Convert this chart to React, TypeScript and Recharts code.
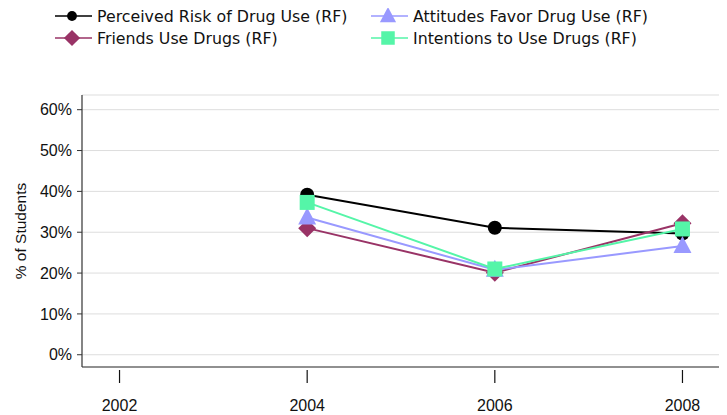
import React from 'react';
import { LineChart, Line, XAxis, YAxis, CartesianGrid } from 'recharts';

const years = [2004, 2006, 2008];
const perceivedRisk = [39.2, 31.1, 29.7];
const friendsUse = [31.0, 20.1, 32.2];
const attitudesFavor = [33.6, 20.8, 26.6];
const intentionsUse = [37.3, 21.0, 30.8];
const xTicks = [2002, 2004, 2006, 2008];
const yTicks = [0, 10, 20, 30, 40, 50, 60];

const data = years.map((year, i) => ({
  year,
  risk: perceivedRisk[i],
  friends: friendsUse[i],
  attitudes: attitudesFavor[i],
  intentions: intentionsUse[i],
}));

const SERIES = [
  { key: 'risk', name: 'Perceived Risk of Drug Use (RF)', color: '#000000', shape: 'circle' },
  { key: 'friends', name: 'Friends Use Drugs (RF)', color: '#993366', shape: 'diamond' },
  { key: 'attitudes', name: 'Attitudes Favor Drug Use (RF)', color: '#9999FF', shape: 'triangle' },
  { key: 'intentions', name: 'Intentions to Use Drugs (RF)', color: '#55F5A8', shape: 'square' },
];

const AXIS_FONT = "Arial, 'Liberation Sans', sans-serif";

function Marker({ cx, cy, shape, color, s = 1 }: { cx: number; cy: number; shape: string; color: string; s?: number }) {
  if (cx == null || cy == null) return null;
  if (shape === 'circle') return <circle cx={cx} cy={cy} r={7 * s} fill={color} />;
  if (shape === 'diamond')
    return (
      <polygon
        points={`${cx},${cy - 9 * s} ${cx + 9 * s},${cy} ${cx},${cy + 9 * s} ${cx - 9 * s},${cy}`}
        fill={color}
      />
    );
  if (shape === 'triangle')
    return (
      <polygon
        points={`${cx},${cy - 10 * s} ${cx + 9 * s},${cy + 7 * s} ${cx - 9 * s},${cy + 7 * s}`}
        fill={color}
      />
    );
  return <rect x={cx - 7.5 * s} y={cy - 7.5 * s} width={15 * s} height={15 * s} fill={color} />;
}

const legendPos = [
  { left: 47, top: -3 },
  { left: 47, top: 19 },
  { left: 363, top: -3 },
  { left: 363, top: 19 },
];

function LegendBox() {
  return (
    <>
      {SERIES.map((s, i) => (
        <div
          key={s.key}
          style={{
            position: 'absolute',
            left: legendPos[i].left,
            top: legendPos[i].top,
            height: 22,
            display: 'flex',
            alignItems: 'center',
            whiteSpace: 'nowrap',
            fontFamily: '"DejaVu Sans", Verdana, sans-serif',
            fontSize: 15.8,
            color: '#111',
          }}
        >
          <svg width={42} height={22} style={{ flexShrink: 0 }}>
            <line x1={0} y1={11} x2={37} y2={11} stroke={s.color} strokeWidth={1.5} />
            <Marker cx={17} cy={11} shape={s.shape} color={s.color} s={s.shape === 'circle' ? 0.7 : 0.9} />
          </svg>
          <span>{s.name}</span>
        </div>
      ))}
    </>
  );
}

function XTick({ x, y, payload }: any) {
  return (
    <g>
      <line x1={x} y1={y - 5} x2={x} y2={y + 8} stroke="#111" strokeWidth={1.2} />
      <text x={x} y={y + 36} textAnchor="middle" fill="#111" fontSize={16} fontFamily={AXIS_FONT}>
        {payload.value}
      </text>
    </g>
  );
}

export default function App() {
  return (
    <div style={{ position: 'relative', width: 719, height: 407 }}>
      <LineChart width={719} height={407} data={data} margin={{ top: 87, right: 7, left: 0, bottom: 0 }}>
        <CartesianGrid vertical={false} stroke="#dddddd" />
        <XAxis
          dataKey="year"
          type="number"
          domain={[2001.6, 2008.4]}
          ticks={xTicks}
          height={48}
          tickLine={false}
          tick={<XTick />}
          axisLine={{ stroke: '#333', strokeWidth: 1.2 }}
        />
        <YAxis
          domain={[-3, 63.6]}
          ticks={yTicks}
          width={74}
          tickFormatter={(v: number) => `${v}%`}
          tickSize={5}
          tickMargin={5}
          tickLine={{ stroke: '#333' }}
          axisLine={{ stroke: '#333', strokeWidth: 1.2 }}
          tick={{ fill: '#111', fontSize: 16, fontFamily: AXIS_FONT }}
          label={{
            value: '% of Students',
            angle: -90,
            position: 'insideLeft',
            offset: 12,
            style: { textAnchor: 'middle', fill: '#111', fontSize: 15.5, fontFamily: AXIS_FONT },
          }}
        />
        {SERIES.map((s) => (
          <Line
            key={s.key}
            dataKey={s.key}
            name={s.name}
            stroke={s.color}
            strokeWidth={2}
            isAnimationActive={false}
            dot={(p: any) => <Marker key={`${s.key}-${p.index}`} cx={p.cx} cy={p.cy} shape={s.shape} color={s.color} />}
            activeDot={false}
          />
        ))}
      </LineChart>
      <LegendBox />
    </div>
  );
}
